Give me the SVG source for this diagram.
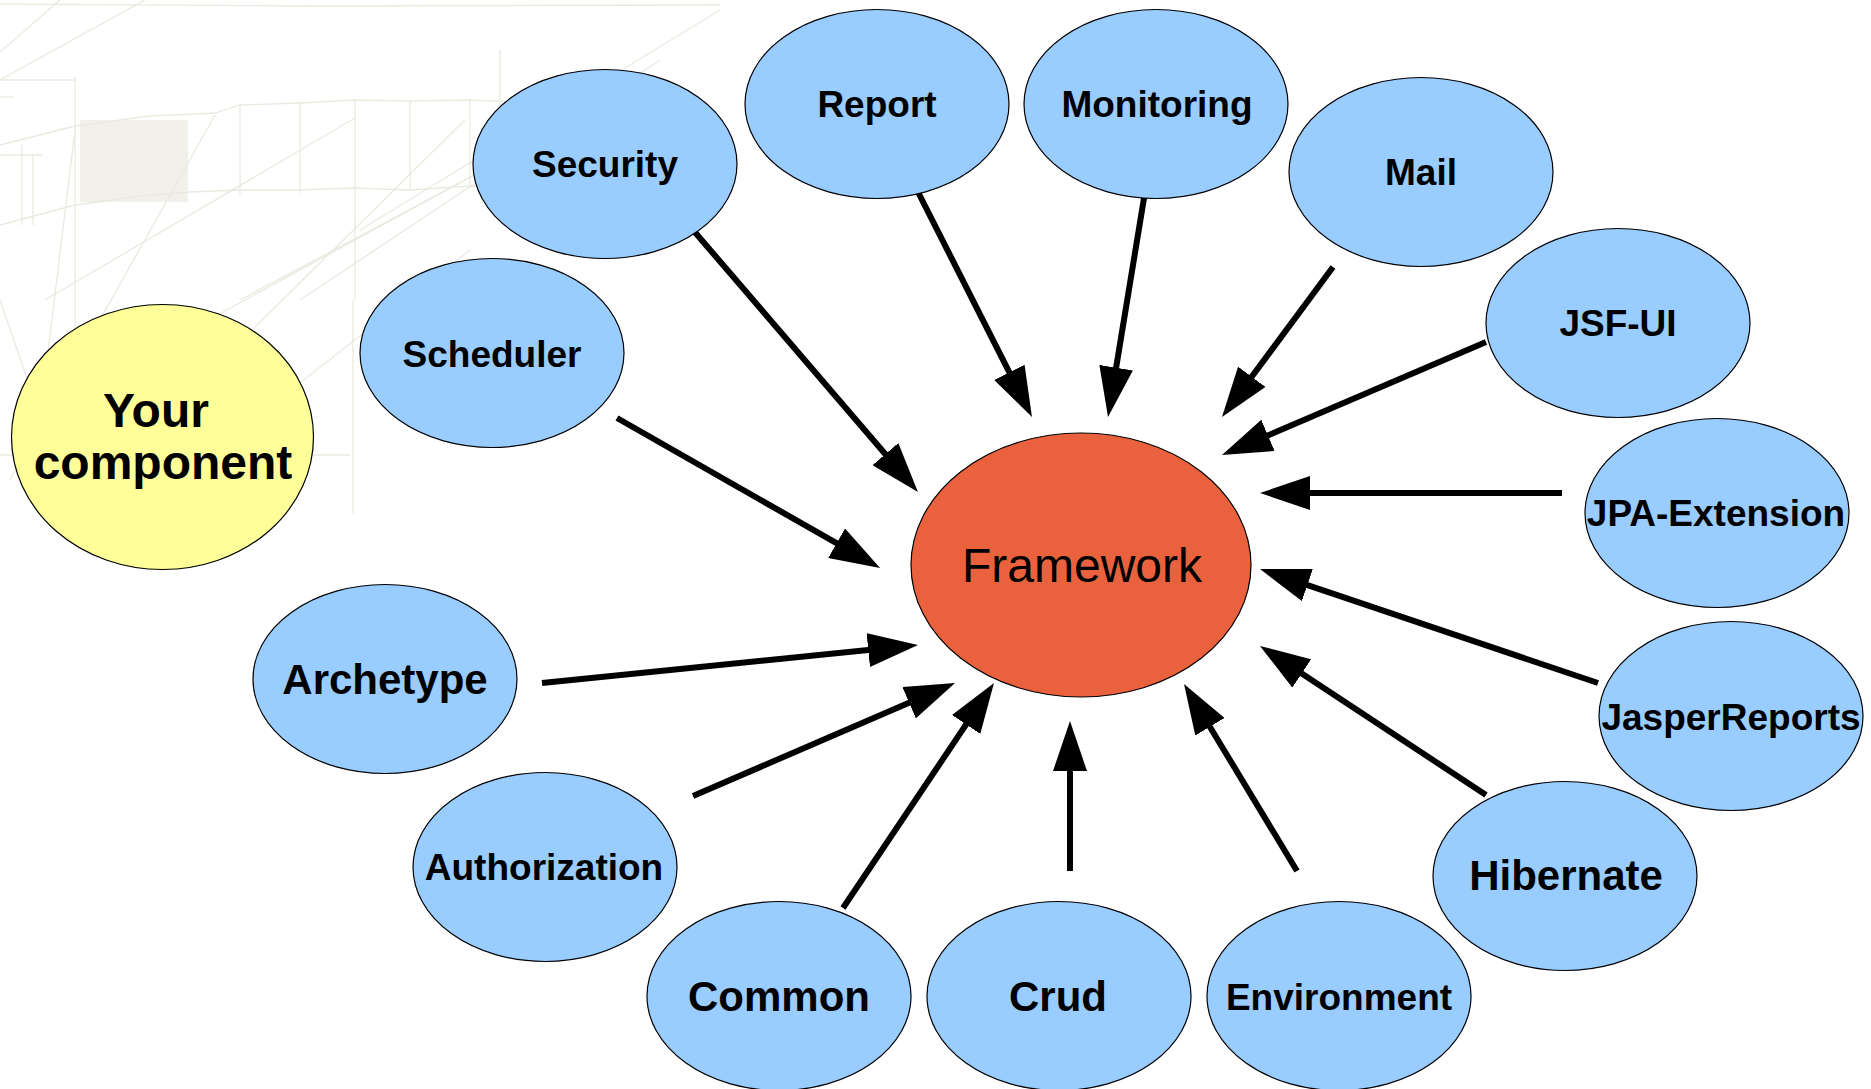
<svg xmlns="http://www.w3.org/2000/svg" width="1871" height="1089" viewBox="0 0 1871 1089">
<defs>
<marker id="ah" viewBox="0 0 50 34" refX="10" refY="17" markerWidth="50" markerHeight="34" markerUnits="userSpaceOnUse" orient="auto">
<path d="M0,0 L50,17 L0,34 z" fill="#000"/>
</marker>
<style>
.sk{fill:none;stroke:#ebe9df;stroke-width:1.3}
.n{fill:#99ccff;stroke:#000;stroke-width:1.2}
.t{font-family:"Liberation Sans",Arial,sans-serif;font-weight:bold;font-size:37px;fill:#000;text-anchor:middle}
.b{font-size:42px}
.c{stroke:#000;stroke-width:6;fill:none;marker-end:url(#ah)}
</style>
</defs>
<rect width="1871" height="1089" fill="#fff"/>
<g id="background-sketch">
<rect x="80" y="120" width="108" height="82" fill="#f1f0ea"/>
<polyline class="sk" points="0,4 300,6 720,5"/>
<line class="sk" x1="60" y1="0" x2="0" y2="52"/>
<line class="sk" x1="145" y1="0" x2="0" y2="80"/>
<line class="sk" x1="75" y1="77" x2="75" y2="510"/>
<line class="sk" x1="0" y1="80" x2="75" y2="80"/>
<line class="sk" x1="0" y1="97" x2="14" y2="97"/>
<line class="sk" x1="0" y1="155" x2="42" y2="155"/>
<polyline class="sk" points="0,145 75,126 150,116 215,113 240,105 300,103 355,100 410,101 470,100 520,102"/>
<polyline class="sk" points="0,225 75,205 150,195 190,192 240,190 300,190 355,188 410,190 470,186 520,188"/>
<line class="sk" x1="240" y1="105" x2="240" y2="195"/>
<line class="sk" x1="300" y1="102" x2="300" y2="193"/>
<line class="sk" x1="355" y1="100" x2="355" y2="300"/>
<line class="sk" x1="410" y1="101" x2="410" y2="190"/>
<line class="sk" x1="470" y1="100" x2="470" y2="188"/>
<line class="sk" x1="22" y1="145" x2="22" y2="225"/>
<line class="sk" x1="33" y1="155" x2="33" y2="225"/>
<line class="sk" x1="10" y1="480" x2="215" y2="115"/>
<line class="sk" x1="30" y1="500" x2="75" y2="130"/>
<line class="sk" x1="0" y1="300" x2="55" y2="460"/>
<line class="sk" x1="45" y1="300" x2="355" y2="118"/>
<line class="sk" x1="110" y1="470" x2="465" y2="120"/>
<line class="sk" x1="190" y1="330" x2="520" y2="150"/>
<line class="sk" x1="240" y1="300" x2="540" y2="140"/>
<line class="sk" x1="150" y1="500" x2="470" y2="250"/>
<line class="sk" x1="300" y1="300" x2="660" y2="60"/>
<line class="sk" x1="360" y1="230" x2="720" y2="10"/>
<line class="sk" x1="0" y1="455" x2="350" y2="455"/>
<line class="sk" x1="353" y1="300" x2="353" y2="514"/>
<line class="sk" x1="500" y1="50" x2="500" y2="110"/>
</g>
<g id="connectors">
<line class="c" x1="693" y1="230" x2="891.9" y2="461.7"/>
<line class="c" x1="918" y1="192" x2="1013.9" y2="381.3"/>
<line class="c" x1="1145" y1="192" x2="1114.5" y2="377.5"/>
<line class="c" x1="1333" y1="267" x2="1245.8" y2="384.8"/>
<line class="c" x1="1486" y1="342" x2="1258.8" y2="439.3"/>
<line class="c" x1="1562" y1="493" x2="1300" y2="493"/>
<line class="c" x1="1598" y1="683" x2="1297.9" y2="581.8"/>
<line class="c" x1="1486" y1="795" x2="1293.4" y2="668"/>
<line class="c" x1="1297" y1="871" x2="1204.7" y2="718.2"/>
<line class="c" x1="1070" y1="871" x2="1070" y2="761"/>
<line class="c" x1="843" y1="908" x2="971.7" y2="716.2"/>
<line class="c" x1="693" y1="796" x2="918.3" y2="698.8"/>
<line class="c" x1="542" y1="683" x2="878.2" y2="649"/>
<line class="c" x1="617" y1="418" x2="845.3" y2="548.2"/>
</g>
<g id="your-component">
<ellipse cx="162.5" cy="437" rx="151" ry="132.5" fill="#ffff99" stroke="#000" stroke-width="1.2"/>
<text class="t" x="156" y="427" style="font-size:48px">Your</text>
<text class="t" x="163" y="479" style="font-size:48px">component</text>
</g>
<g id="framework">
<ellipse cx="1081" cy="565" rx="170" ry="132" fill="#ea613e" stroke="#000" stroke-width="1.2"/>
<text x="1082" y="582" style="font-family:'Liberation Sans',Arial,sans-serif;font-size:48px;fill:#000;text-anchor:middle">Framework</text>
</g>
<g id="security"><ellipse class="n" cx="605" cy="164" rx="132" ry="94.5"/><text class="t" x="605" y="177">Security</text></g>
<g id="report"><ellipse class="n" cx="877" cy="104" rx="132" ry="94.5"/><text class="t" x="877" y="117">Report</text></g>
<g id="monitoring"><ellipse class="n" cx="1156" cy="104" rx="132" ry="94.5"/><text class="t" x="1157" y="117">Monitoring</text></g>
<g id="mail"><ellipse class="n" cx="1421" cy="172" rx="132" ry="94.5"/><text class="t" x="1421" y="185">Mail</text></g>
<g id="jsf-ui"><ellipse class="n" cx="1618" cy="323" rx="132" ry="94.5"/><text class="t" x="1618" y="336">JSF-UI</text></g>
<g id="jpa-extension"><ellipse class="n" cx="1717" cy="513" rx="132" ry="94.5"/><text class="t" x="1716" y="526">JPA-Extension</text></g>
<g id="jasperreports"><ellipse class="n" cx="1731" cy="716" rx="132" ry="94.5"/><text class="t" x="1731" y="730">JasperReports</text></g>
<g id="hibernate"><ellipse class="n" cx="1565" cy="876" rx="132" ry="94.5"/><text class="t b" x="1566" y="890">Hibernate</text></g>
<g id="environment"><ellipse class="n" cx="1339" cy="996" rx="132" ry="94.5"/><text class="t" x="1339" y="1010">Environment</text></g>
<g id="crud"><ellipse class="n" cx="1059" cy="996" rx="132" ry="94.5"/><text class="t b" x="1058" y="1011">Crud</text></g>
<g id="common"><ellipse class="n" cx="779" cy="996" rx="132" ry="94.5"/><text class="t b" x="779" y="1011">Common</text></g>
<g id="authorization"><ellipse class="n" cx="545" cy="867" rx="132" ry="94.5"/><text class="t" x="544" y="880">Authorization</text></g>
<g id="archetype"><ellipse class="n" cx="385" cy="679" rx="132" ry="94.5"/><text class="t b" x="385" y="694">Archetype</text></g>
<g id="scheduler"><ellipse class="n" cx="492" cy="353" rx="132" ry="94.5"/><text class="t" x="492" y="367">Scheduler</text></g>
</svg>
